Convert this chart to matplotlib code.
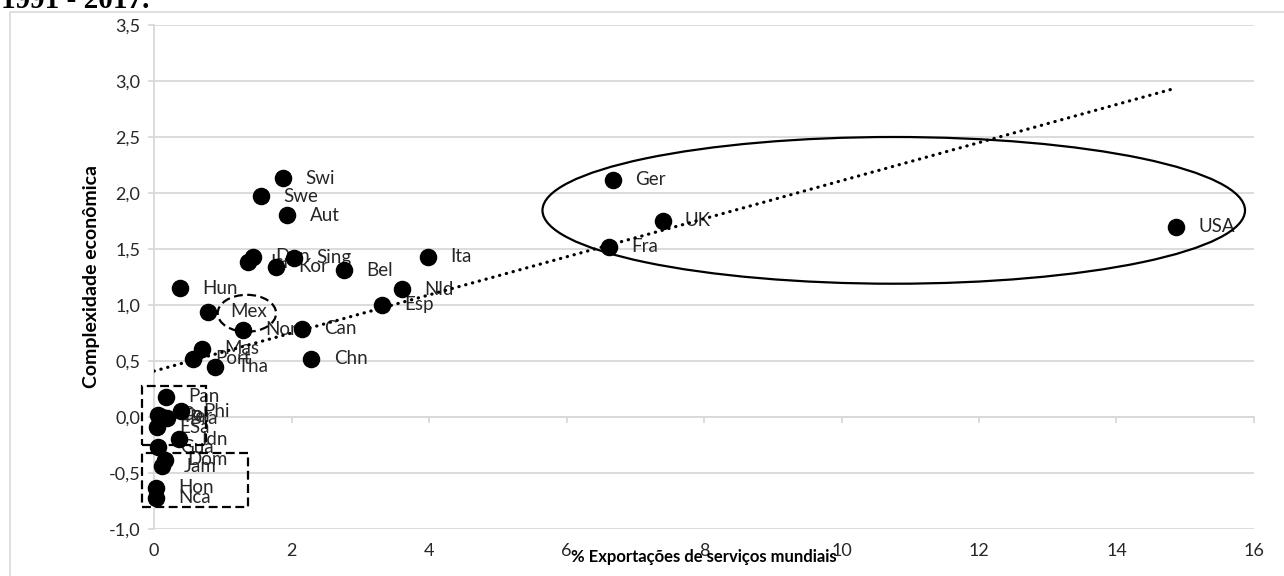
import matplotlib
matplotlib.use("Agg")
import matplotlib.pyplot as plt
from matplotlib.patches import Ellipse, Rectangle
from matplotlib.ticker import FuncFormatter

plt.rcParams["font.family"] = ["Lato", "DejaVu Sans"]

# Country codes, % of world service exports, economic complexity
countries = ["Swi", "Swe", "Aut", "Isr", "Den", "Sing", "Kor", "Bel", "Ita",
             "Hun", "Nld", "Esp", "Mex", "Nor", "Can", "Chn", "Mas", "Port",
             "Tha", "Pan", "Phi", "Bra", "Col", "Per", "ESa", "Idn", "Gua",
             "Dom", "Jam", "Hon", "Nca", "Ger", "UK", "Fra", "USA"]
exports = [1.88, 1.56, 1.94, 1.37, 1.44, 2.04, 1.78, 2.76, 3.98,
           0.38, 3.60, 3.31, 0.78, 1.30, 2.15, 2.29, 0.70, 0.57,
           0.89, 0.18, 0.39, 0.19, 0.06, 0.11, 0.04, 0.36, 0.05,
           0.16, 0.11, 0.03, 0.03, 6.68, 7.40, 6.62, 14.87]
complexity = [2.13, 1.97, 1.80, 1.38, 1.43, 1.42, 1.34, 1.31, 1.43,
              1.15, 1.14, 1.00, 0.94, 0.78, 0.79, 0.52, 0.61, 0.52,
              0.45, 0.18, 0.05, -0.01, 0.02, 0.00, -0.09, -0.20, -0.27,
              -0.38, -0.44, -0.63, -0.72, 2.12, 1.75, 1.52, 1.70]

# linear trend
trend_intercept = 0.41
trend_slope = 0.17

fig = plt.figure(figsize=(12.84, 5.76), dpi=100)
ax = fig.add_axes([0.12, 0.0816, 0.8566, 0.875])

# outer chart frame and cut-off title
fig.patches.append(Rectangle((10 / 1284, -0.1), 1.2, 1 - 12 / 576 + 0.1,
                             transform=fig.transFigure, fill=False,
                             edgecolor="#d9d9d9", linewidth=1.2))
fig.text(0.001, 0.986, "1991 - 2017.", fontsize=21, fontweight="bold",
         family="Liberation Serif", va="baseline", ha="left")

ax.scatter(exports, complexity, s=135, color="black", zorder=4, clip_on=False)
for name, x, y in zip(countries, exports, complexity):
    ax.annotate(name, (x, y), xytext=(16, 0), textcoords="offset points",
                va="center", ha="left", fontsize=13.5, color="#262626", zorder=3)

tx = [0, max(exports)]
ty = [trend_intercept + trend_slope * v for v in tx]
ax.plot(tx, ty, color="black", linewidth=2.3, linestyle=(0, (0.1, 2.1)),
        dash_capstyle="round", zorder=5)

# highlight shapes
ax.add_patch(Ellipse((10.76, 1.845), 10.22, 1.31, fill=False, edgecolor="black",
                     linewidth=1.6, zorder=6))
ax.add_patch(Ellipse((1.35, 0.926), 0.85, 0.33, fill=False, edgecolor="black",
                     linewidth=1.6, linestyle=(0, (4, 2)), zorder=6))
ax.add_patch(Rectangle((-0.18, -0.25), 0.936, 0.527, fill=False, edgecolor="black",
                       linewidth=1.6, linestyle=(0, (4, 2)), zorder=6, clip_on=False))
ax.add_patch(Rectangle((-0.18, -0.80), 1.55, 0.48, fill=False, edgecolor="black",
                       linewidth=1.6, linestyle=(0, (4, 2)), zorder=6, clip_on=False))

ax.set_xlim(0, 16)
ax.set_ylim(-1.0, 3.5)
ax.set_yticks([-1.0 + 0.5 * i for i in range(10)])
ax.yaxis.set_major_formatter(FuncFormatter(lambda v, p: f"{v:.1f}".replace(".", ",")))
ax.grid(axis="y", color="#d9d9d9", linewidth=1.3, zorder=0)
ax.set_axisbelow(True)

for s in ["top", "right"]:
    ax.spines[s].set_visible(False)
ax.spines["left"].set_color("#d9d9d9")
ax.spines["left"].set_linewidth(1.3)
ax.spines["bottom"].set_position(("data", 0))
ax.spines["bottom"].set_color("#d9d9d9")
ax.spines["bottom"].set_linewidth(1.3)

ax.set_xticks(range(0, 17, 2))
ax.tick_params(axis="x", direction="out", length=4, color="#d9d9d9", width=1.3,
               labelbottom=False)
ax.tick_params(axis="y", direction="out", length=4, color="#d9d9d9", width=1.3,
               labelsize=13, labelcolor="#262626", pad=6)

sec = ax.secondary_xaxis("bottom")
sec.set_xticks(range(0, 17, 2))
sec.spines["bottom"].set_visible(False)
sec.tick_params(length=0, labelsize=13, labelcolor="#262626", pad=10)
sec.set_xlabel("% Exportações de serviços mundiais", fontsize=12,
               fontweight="bold", labelpad=-7)

ax.set_ylabel("Complexidade econômica", fontsize=14, fontweight="bold", labelpad=6)

fig.savefig("out.png", dpi=100)
